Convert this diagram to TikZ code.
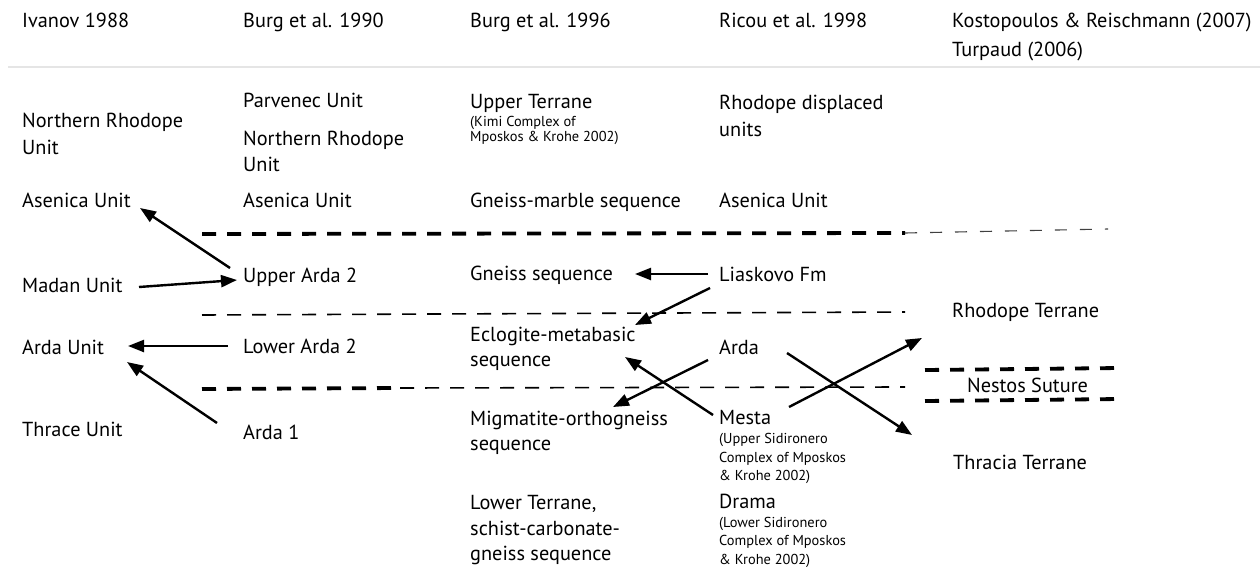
\documentclass[tikz,border=0pt]{standalone}
\usepackage{fontspec}
\setmainfont{PT Sans}
\usetikzlibrary{arrows.meta,calc}
\tikzset{
  lbl/.style={anchor=base west, inner sep=0pt, font=\fontsize{20.3}{24}\selectfont},
  sm/.style={anchor=base west, inner sep=0pt, font=\fontsize{14.4}{17}\selectfont},
  arr/.style={line width=2.4pt, -{Triangle[length=16pt,width=12pt]}},
  thickdash/.style={line width=3.8pt, dash pattern=on 14pt off 11pt},
  thindash/.style={line width=1.6pt, dash pattern=on 14pt off 11pt},
  faintdash/.style={line width=1.1pt, dash pattern=on 12pt off 13pt, black!75},
}
\begin{document}
\begin{tikzpicture}[x=1pt,y=-1pt]
\useasboundingbox (0,0) rectangle (1260,567);
\fill[white] (0,0) rectangle (1260,567);
% headers
\node[lbl] (h1) at (22,28) {Ivanov 1988};
\node[lbl] (h2) at (243,28) {Burg et al. 1990};
\node[lbl] (h3) at (470,28) {Burg et al. 1996};
\node[lbl] (h4) at (719,28) {Ricou et al. 1998};
\node[lbl] (h5) at (952,28) {Kostopoulos \& Reischmann (2007)};
\node[lbl] (h5b) at (952,57) {Turpaud (2006)};
\draw[black!10, line width=1.5pt] (8,67) -- (1260,67);
% column 1
\node[lbl] (nr1) at (22,128) {Northern Rhodope};
\node[lbl] (nr1b) at (22,154) {Unit};
\node[lbl] (as1) at (22,207) {Asenica Unit};
\node[lbl] (mad) at (22,292) {Madan Unit};
\node[lbl] (arU) at (22,354) {Arda Unit};
\node[lbl] (thU) at (22,436) {Thrace Unit};
% column 2
\node[lbl] (par) at (243,108) {Parvenec Unit};
\node[lbl] (nr2) at (243,146) {Northern Rhodope};
\node[lbl] (nr2b) at (243,171) {Unit};
\node[lbl] (as2) at (243,207) {Asenica Unit};
\node[lbl] (ua2) at (243,282) {Upper Arda 2};
\node[lbl] (la2) at (243,353) {Lower Arda 2};
\node[lbl] (a1) at (243,439) {Arda 1};
% column 3
\node[lbl] (ut) at (470,109) {Upper Terrane};
\node[sm] (ut2) at (470,127) {(Kimi Complex of};
\node[sm] (ut3) at (470,142) {Mposkos \& Krohe 2002)};
\node[lbl] (gm) at (470,207) {Gneiss-marble sequence};
\node[lbl] (gs) at (470,280) {Gneiss sequence};
\node[lbl] (ecl) at (470,341) {Eclogite-metabasic};
\node[lbl] (ecl2) at (470,366) {sequence};
\node[lbl] (mig) at (470,425) {Migmatite-orthogneiss};
\node[lbl] (mig2) at (470,450) {sequence};
\node[lbl] (lt) at (470,509) {Lower Terrane,};
\node[lbl] (lt2) at (470,535) {schist-carbonate-};
\node[lbl] (lt3) at (470,560) {gneiss sequence};
% column 4
\node[lbl] (rd) at (719,110) {Rhodope displaced};
\node[lbl] (rd2) at (719,136) {units};
\node[lbl] (as4) at (719,207) {Asenica Unit};
\node[lbl] (lia) at (719,281) {Liaskovo Fm};
\node[lbl] (arda) at (719,354) {Arda};
\node[lbl] (mes) at (719,424) {Mesta};
\node[sm] (mes2) at (719,443) {(Upper Sidironero};
\node[sm] (mes3) at (719,462) {Complex of Mposkos};
\node[sm] (mes4) at (719,480) {\& Krohe 2002)};
\node[lbl] (dra) at (719,508) {Drama};
\node[sm] (dra2) at (719,527) {(Lower Sidironero};
\node[sm] (dra3) at (719,545) {Complex of Mposkos};
\node[sm] (dra4) at (719,564) {\& Krohe 2002)};
% column 5
\node[lbl] (rho) at (952,317) {Rhodope Terrane};
\node[lbl] (nes) at (967,392) {Nestos Suture};
\node[lbl] (thr) at (953,469) {Thracia Terrane};
% separators
\draw[thickdash] (202,234) -- (905,233);
\draw[faintdash] (905,233) -- (1108,229);
\draw[thindash] (202,315) -- (905,312);
\draw[thickdash] (202,389) -- (400,388);
\draw[thindash] (400,388) -- (905,387);
\draw[thickdash] (925,370) -- (1120,368);
\draw[thickdash] (925,401) -- (1120,399);
% arrows
\draw[arr] ($(ua2.base west)+(-13,-14)$) -- ($(as1.base west)+(118,1)$);
\draw[arr] ($(mad.base west)+(117,-5)$) -- ($(ua2.base west)+(-6,-2)$);
\draw[arr] ($(la2.base west)+(-15,-7)$) -- ($(arU.base west)+(106,-8)$);
\draw[arr] ($(a1.base west)+(-26,-16)$) -- ($(arU.base west)+(105,8)$);
\draw[arr] ($(lia.base west)+(-11,-7)$) -- ($(gs.base west)+(165,-6)$);
\draw[arr] ($(lia.base west)+(-9,7)$) -- ($(ecl.base west)+(165,-16)$);
\draw[arr] ($(mes.base west)+(-6,-9)$) -- ($(ecl.base west)+(155,16)$);
\draw[arr] ($(arda.base west)+(-11,6)$) -- ($(mig.base west)+(143,-18)$);
\draw[arr] ($(arda.base west)+(68,-1)$) -- ($(thr.base west)+(-41,-34)$);
\draw[arr] ($(mes.base west)+(70,-17)$) -- ($(rho.base west)+(-30,21)$);
\end{tikzpicture}
\end{document}
